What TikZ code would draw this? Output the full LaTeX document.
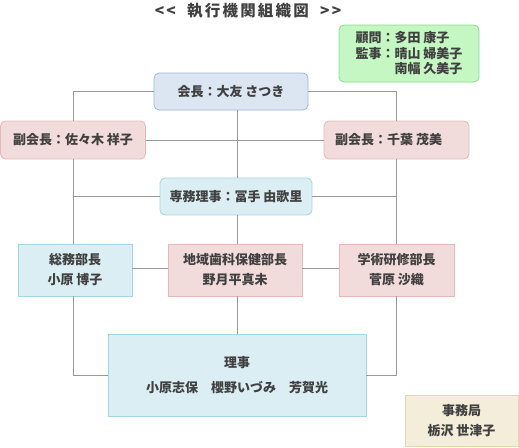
\documentclass[tikz,border=0pt]{standalone}
\usepackage{fontspec}
\setmainfont{Noto Sans CJK JP}
\newfontfamily\titlefont[LetterSpace=14]{Noto Sans CJK JP}
\usetikzlibrary{positioning}

\definecolor{txt}{HTML}{404040}
\definecolor{wire}{HTML}{999999}
\definecolor{presfill}{HTML}{DCE6F2}\definecolor{presline}{HTML}{9BB9DE}
\definecolor{vicefill}{HTML}{F2DCDB}\definecolor{viceline}{HTML}{E6B9B8}
\definecolor{bluefill}{HTML}{DAEEF3}\definecolor{blueline}{HTML}{A3D6E4}
\definecolor{greenfill}{HTML}{C4F7C2}\definecolor{greenline}{HTML}{86DD8E}
\definecolor{beigefill}{HTML}{F3EDDA}\definecolor{beigeline}{HTML}{E2D6B3}

\tikzset{
  box/.style={draw,line width=0.8pt,text=txt,align=center,inner sep=0pt,
    font=\fontsize{13}{20}\selectfont\bfseries},
  roundbox/.style={box,rounded corners=5pt},
  presbox/.style={roundbox,fill=presfill,draw=presline},
  vicebox/.style={roundbox,fill=vicefill,draw=viceline},
  execbox/.style={roundbox,fill=bluefill,draw=blueline},
  deptbox/.style={box,fill=vicefill,draw=viceline},
  bluebox/.style={box,fill=bluefill,draw=blueline},
  wire/.style={draw=wire,line width=1pt}
}

\begin{document}
\begin{tikzpicture}[x=1pt,y=-1pt]
  \useasboundingbox (0,0) rectangle (519,447);

  \node (title) at (248,11) {\titlefont\fontsize{15.5}{15.5}\selectfont\bfseries\color{txt}<<\ \ 執行機関組織図\ \ >>};

  \node[roundbox,fill=greenfill,draw=greenline,minimum width=140pt,minimum height=57pt,
        align=left,font=\fontsize{13}{15.5}\selectfont\bfseries] (advisor) at (409,53.5)
        {顧問：多田 康子\\監事：晴山 婦美子\\\phantom{監事：}南幅 久美子};

  \node[presbox,minimum width=154pt,minimum height=37pt] (pres) at (231,91.5) {会長：大友 さつき};
  \node[vicebox,minimum width=145pt,minimum height=38pt] (viceL) at (73,140) {副会長：佐々木 祥子};
  \node[vicebox,minimum width=145pt,minimum height=38pt] (viceR) at (396.5,140) {副会長：千葉 茂美\hspace{1.2em}};
  \node[execbox,minimum width=152pt,minimum height=37pt] (exec) at (236,196.5) {専務理事：冨手 由歌里};

  \node[bluebox,minimum width=114pt,minimum height=52pt] (general) at (75,270) {総務部長\\小原 博子};
  \node[deptbox,minimum width=134pt,minimum height=52pt] (regional) at (235,270) {地域歯科保健部長\\野月平真未};
  \node[deptbox,minimum width=115pt,minimum height=52pt] (academic) at (396.5,270) {学術研修部長\\菅原 沙織};

  \node[bluebox,minimum width=258pt,minimum height=82pt,font=\fontsize{13}{25}\selectfont\bfseries] (board) at (237,375)
        {理事\\小原志保　櫻野いづみ　芳賀光};

  \node[box,fill=beigefill,draw=beigeline,minimum width=113pt,minimum height=51pt] (office) at (461.5,420.5)
        {事務局\\栃沢 世津子};

  % connectors
  \draw[wire] (pres.west) -| (viceL.north);
  \draw[wire] (pres.east) -| (viceR.north);
  \draw[wire] (viceL.east) -- (viceR.west);
  \draw[wire] (pres.south -| exec.north) ++(1,0) coordinate (spine) -- (spine |- exec.north);
  \draw[wire] (spine |- exec.south) -- (spine |- regional.north);
  \draw[wire] (spine |- regional.south) -- (spine |- board.north);
  \draw[wire] (viceL.south) -- (viceL.south |- general.north);
  \draw[wire] (viceR.south) -- (viceR.south |- academic.north);
  \draw[wire] (exec.west) -- (exec.west -| viceL.south);
  \draw[wire] (exec.east) -- (exec.east -| viceR.south);
  \draw[wire] ([yshift=2pt]general.east) -- ([yshift=2pt]regional.west);
  \draw[wire] ([yshift=2pt]regional.east) -- ([yshift=2pt]academic.west);
  \draw[wire] (viceL.south |- general.south) |- (board.west);
  \draw[wire] (viceR.south |- academic.south) |- (board.east);
\end{tikzpicture}
\end{document}
